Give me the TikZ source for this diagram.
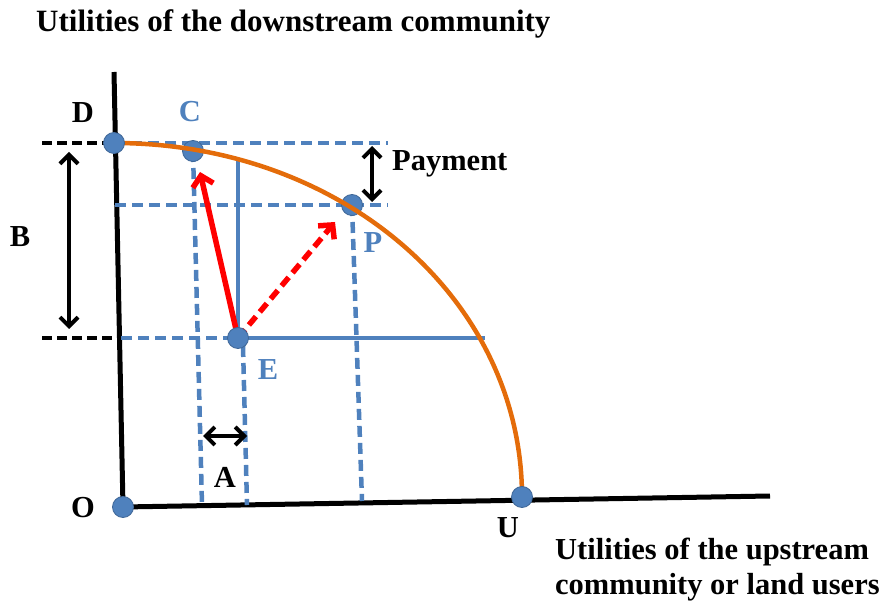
\documentclass[tikz,border=0pt]{standalone}
\usepackage{fontspec}
\setmainfont{Liberation Serif}
\usetikzlibrary{arrows.meta}
\definecolor{ptblue}{RGB}{79,129,189}
\definecolor{frontier}{RGB}{228,108,10}
\definecolor{moved}{RGB}{255,0,0}

\begin{document}
\begin{tikzpicture}[x=1pt,y=-1pt,
  dot/.style={circle,fill=ptblue,draw=ptblue!80!black,line width=0.8pt,inner sep=0pt,minimum size=21pt},
  guide/.style={ptblue,line width=4.5pt,dash pattern=on 11pt off 6pt},
  blackguide/.style={black,line width=4pt,dash pattern=on 10pt off 5pt},
  axisline/.style={black,line width=5pt},
  span/.style={black,line width=4pt,{Straight Barb[length=9pt,width=18pt]}-{Straight Barb[length=9pt,width=18pt]}},
  move/.style={moved,line width=5.5pt,-{Straight Barb[length=10pt,width=21pt]}},
  lbl/.style={font=\bfseries\fontsize{30.5}{35}\selectfont,inner sep=0pt},
  ptlbl/.style={lbl,text=ptblue}]
\useasboundingbox (0,0) rectangle (886,601);
% points of the frontier
\coordinate (O) at (123,507); \coordinate (Ytop) at (114,72); \coordinate (Xend) at (770,496);
\coordinate (D) at (114,143); \coordinate (U) at (522,497);
\coordinate (C) at (193,151); \coordinate (P) at (352,205); \coordinate (E) at (238,338);
% ends of the guide lines
\coordinate (Dleft) at (42,143); \coordinate (Eleft) at (42,338); \coordinate (Eaxis) at (121,338); \coordinate (Paxis) at (115,205);
\coordinate (Tright) at (388,143); \coordinate (Pright) at (388,205); \coordinate (Eright) at (485,338);
\coordinate (Cbot) at (202,505); \coordinate (Etop) at (238,160); \coordinate (Edash) at (243,346); \coordinate (Ebot) at (247,505); \coordinate (Pbot) at (362,501);
% ends of the spans and of the moves
\coordinate (PayTop) at (372,146); \coordinate (PayBot) at (372,202);
\coordinate (BTop) at (69,152); \coordinate (BBot) at (69,329);
\coordinate (ALeft) at (203,436); \coordinate (ARight) at (247,436);
\coordinate (CTip) at (200,172); \coordinate (PTip) at (335,222);
% axes
\draw[axisline] (Ytop) -- (O) -- (Xend);
% guides
\draw[blackguide] (Dleft) -- (D); \draw[blackguide] (Eleft) -- (Eaxis);
\draw[guide] (D) -- (Tright); \draw[guide] (Paxis) -- (Pright); \draw[guide] (Eaxis) -- (E);
\draw[guide] (C) -- (Cbot); \draw[guide] (Edash) -- (Ebot); \draw[guide] (P) -- (Pbot);
\draw[ptblue,line width=3.5pt] (Etop) -- (E) -- (Eright);
% spans
\draw[span] (PayTop) -- (PayBot); \draw[span] (BTop) -- (BBot); \draw[span] (ALeft) -- (ARight);
% moves away from E
\draw[move] (E) -- (CTip); \draw[move,dash pattern=on 11pt off 6pt] (E) -- (PTip);
% dots under the frontier
\node[dot] (Cdot) at (C) {}; \node[dot] (Pdot) at (P) {}; \node[dot] (Edot) at (E) {};
% the frontier
\draw[frontier,line width=4.5pt] (D) .. controls +(228,0) and +(0,-198) .. (U);
\node[dot] (Odot) at (O) {}; \node[dot] (Ddot) at (D) {}; \node[dot] (Udot) at (U) {};
% labels
\node[lbl,font=\bfseries\fontsize{31}{35}\selectfont,anchor=base west] (ytitle) at (36,32) {Utilities of the downstream community};
\node[lbl,anchor=north west,align=left] (xtitle) at (555,538) {Utilities of the upstream\\community or land users};
\node[lbl] (Dlbl) at (83,113) {D}; \node[ptlbl] (Clbl) at (190,112) {C};
\node[lbl] (Blbl) at (20,237) {B}; \node[lbl,anchor=west] (Paylbl) at (392,164) {Payment};
\node[ptlbl] (Plbl) at (373,243) {P}; \node[ptlbl] (Elbl) at (268,370) {E};
\node[lbl] (Albl) at (225,477) {A}; \node[lbl] (Olbl) at (83,508) {O}; \node[lbl] (Ulbl) at (508,528) {U};
\end{tikzpicture}
\end{document}
